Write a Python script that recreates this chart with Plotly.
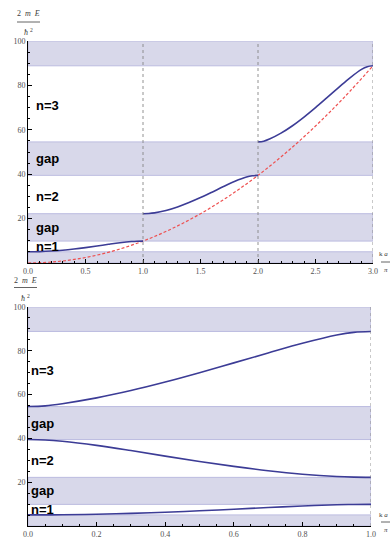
import numpy as np
import plotly.graph_objects as go

# ---- data ----
k_reduced = [0.0, 0.05, 0.1, 0.2, 0.3, 0.4, 0.5, 0.6, 0.7, 0.8, 0.9, 0.95, 1.0]
band1_E = [5.06, 5.08, 5.14, 5.38, 5.76, 6.29, 6.93, 7.66, 8.43, 9.14, 9.67, 9.82, 9.87]
band2_E = [22.21, 22.30, 22.57, 23.63, 25.22, 27.21, 29.46, 31.91, 34.44, 36.81, 38.71, 39.29, 39.48]
band3_E = [54.54, 54.87, 55.85, 58.49, 61.84, 65.74, 70.0, 74.48, 79.0, 83.43, 87.22, 88.43, 88.83]

k_free = [0.0, 0.25, 0.5, 0.75, 1.0, 1.25, 1.5, 1.75, 2.0, 2.25, 2.5, 2.75, 3.0]
free_E = [0.0, 0.62, 2.47, 5.55, 9.87, 15.42, 22.21, 30.23, 39.48, 49.97, 61.69, 74.64, 88.83]

gap_low = [0.0, 9.87, 39.48, 88.83]
gap_high = [5.06, 22.21, 54.54, 100.0]

label_texts = ["n=3", "gap", "n=2", "gap", "n=1"]
label_E = [71, 47, 30, 16, 7.5]

top_xticks = [0.0, 0.5, 1.0, 1.5, 2.0, 2.5, 3.0]
bot_xticks = [0.0, 0.2, 0.4, 0.6, 0.8, 1.0]
yticks = [20, 40, 60, 80, 100]

# ---- styles ----
W, H = 390, 540
BAND_COL = "rgb(60,60,150)"
FREE_COL = "rgb(238,80,80)"
FILL = "rgb(216,216,234)"
EDGE = "rgb(188,188,224)"
VLINE = "rgb(135,135,135)"
TICKFONT = dict(family="Liberation Serif", size=8, color="rgb(80,80,80)")

fig = go.Figure()

kr = np.array(k_reduced)
# top: extended zone
fig.add_trace(go.Scatter(x=k_free, y=free_E, mode="lines",
                         line=dict(color=FREE_COL, width=1.2, dash="3px,2px", shape="spline"),
                         xaxis="x", yaxis="y", hoverinfo="skip"))
for off, E in zip([0, 1, 2], [band1_E, band2_E, band3_E]):
    fig.add_trace(go.Scatter(x=kr + off, y=E, mode="lines", line=dict(color=BAND_COL, width=1.6, shape="spline"),
                             xaxis="x", yaxis="y", hoverinfo="skip"))
# bottom: reduced zone
for E, rev in zip([band1_E, band2_E, band3_E], [False, True, False]):
    yy = E[::-1] if rev else E
    xx = (1 - kr[::-1]) if rev else kr
    fig.add_trace(go.Scatter(x=xx, y=yy, mode="lines", line=dict(color=BAND_COL, width=1.6, shape="spline"),
                             xaxis="x2", yaxis="y2", hoverinfo="skip"))

shapes = []
for lo, hi in zip(gap_low, gap_high):
    shapes.append(dict(type="rect", xref="x", yref="y", x0=0, x1=3, y0=lo, y1=hi,
                       fillcolor=FILL, line=dict(color=EDGE, width=1), layer="below"))
    shapes.append(dict(type="rect", xref="x2", yref="y2", x0=0, x1=1, y0=lo, y1=hi,
                       fillcolor=FILL, line=dict(color=EDGE, width=1), layer="below"))
for xv in [1, 2, 3]:
    shapes.append(dict(type="line", xref="x", yref="y", x0=xv, x1=xv, y0=0, y1=100,
                       line=dict(color=VLINE, width=0.9, dash="3px,3px")))
shapes.append(dict(type="line", xref="x2", yref="y2", x0=1, x1=1, y0=0, y1=100,
                   line=dict(color=VLINE, width=0.9, dash="3px,3px")))

def px(x):
    return x / W

def py(y):
    return 1 - y / H

# axis-title fraction bars
for (x0, x1, yy) in [(17, 40, 22), (14, 37, 287.5), (381, 390, 262), (381, 390, 522)]:
    shapes.append(dict(type="line", xref="paper", yref="paper", x0=px(x0), x1=px(x1), y0=py(yy), y1=py(yy),
                       line=dict(color="rgb(60,60,60)", width=0.8)))

ann = []
LBL = dict(family="Liberation Sans", size=13, color="black")
for t, e in zip(label_texts, label_E):
    ann.append(dict(x=px(34), xref="paper", y=e, yref="y", text="<b>%s</b>" % t, showarrow=False,
                    xanchor="left", yanchor="middle", font=LBL))
    ann.append(dict(x=px(28.5), xref="paper", y=e, yref="y2", text="<b>%s</b>" % t, showarrow=False,
                    xanchor="left", yanchor="middle", font=LBL))

AXF = dict(family="Liberation Serif", size=8, color="rgb(60,60,60)")
AXS = dict(family="Liberation Serif", size=7, color="rgb(60,60,60)")
for (xc, yt, yb) in [(28.5, 14, 31.5), (25.5, 280, 297.5)]:
    ann.append(dict(x=px(xc), y=py(yt), xref="paper", yref="paper", text="2  <i>m</i>  <i>E</i>", showarrow=False,
                    xanchor="center", yanchor="middle", font=AXF))
    ann.append(dict(x=px(xc), y=py(yb), xref="paper", yref="paper", text="<i>ħ</i> <sup>2</sup>", showarrow=False,
                    xanchor="center", yanchor="middle", font=AXF))
for (yt, yb) in [(254, 270), (515, 530)]:
    ann.append(dict(x=px(389), y=py(yt), xref="paper", yref="paper", text="k <i>a</i>", showarrow=False,
                    xanchor="right", yanchor="middle", font=AXS, borderpad=0))
    ann.append(dict(x=px(389), y=py(yb), xref="paper", yref="paper", text="<i>π</i>", showarrow=False,
                    xanchor="right", yanchor="middle", font=AXS, borderpad=0))

common_x = dict(showline=True, linecolor="black", linewidth=1, ticks="inside", ticklen=4, tickcolor="black",
                showgrid=False, zeroline=False, tickfont=TICKFONT, tickformat=".1f", automargin=False)
common_y = dict(showline=True, linecolor="black", linewidth=1, ticks="inside", ticklen=4, tickcolor="black",
                showgrid=False, zeroline=False, tickfont=TICKFONT, range=[0, 100], tickvals=yticks,
                automargin=False,
                minor=dict(dtick=5, ticks="inside", ticklen=2, tickcolor="black"))

fig.update_layout(
    width=W, height=H, margin=dict(l=0, r=0, t=0, b=0, autoexpand=False),
    paper_bgcolor="white", plot_bgcolor="white", showlegend=False,
    xaxis=dict(common_x, domain=[px(28), px(373)], range=[0, 3], tickvals=top_xticks, anchor="y",
               minor=dict(dtick=0.1, ticks="inside", ticklen=2, tickcolor="black")),
    yaxis=dict(common_y, domain=[py(263), py(41)], anchor="x"),
    xaxis2=dict(common_x, domain=[px(28), px(371)], range=[0, 1], tickvals=bot_xticks, anchor="y2",
                minor=dict(dtick=0.05, ticks="inside", ticklen=2, tickcolor="black")),
    yaxis2=dict(common_y, domain=[py(526), py(307)], anchor="x2"),
    shapes=shapes, annotations=ann,
)

fig.write_html("out.html")
